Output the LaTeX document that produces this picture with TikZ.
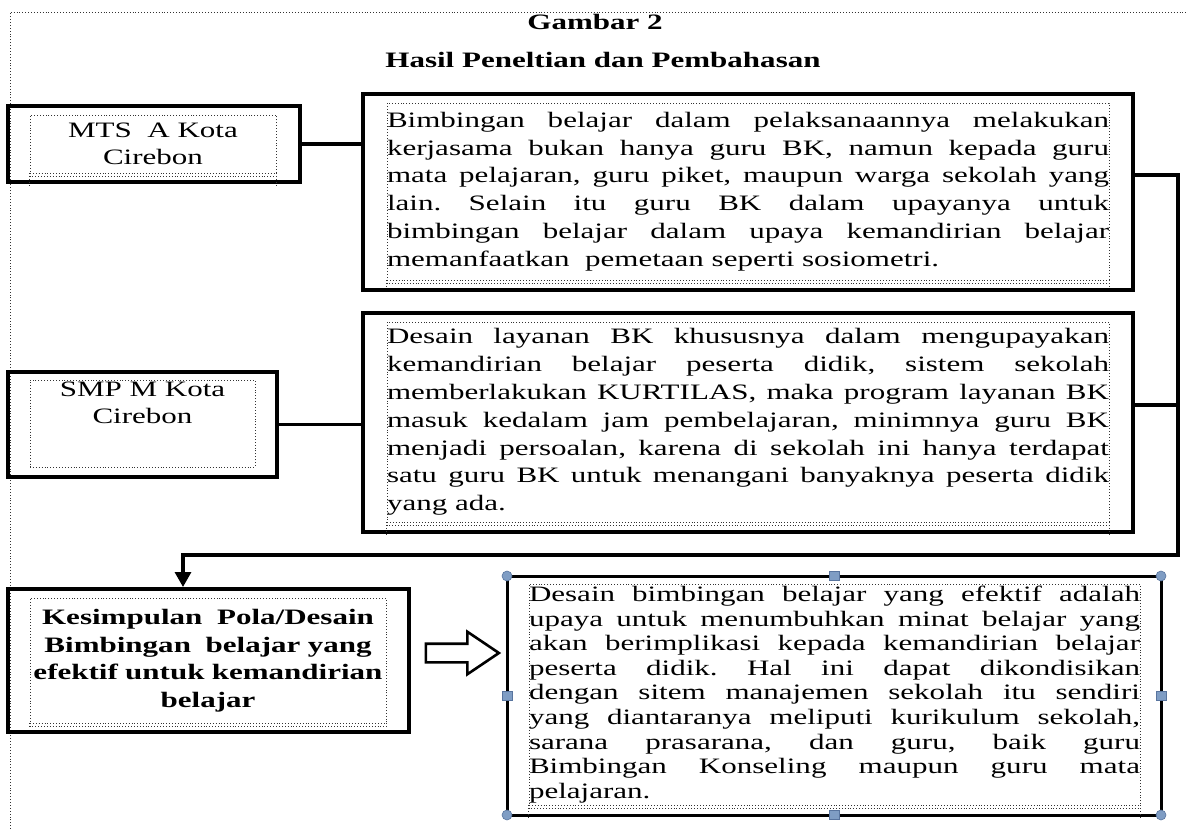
\documentclass[tikz,border=0pt]{standalone}
\usepackage{fontspec}
\setmainfont{Liberation Serif}[FakeStretch=1.41]
\usetikzlibrary{arrows.meta,shapes.arrows}
\definecolor{handleblue}{RGB}{127,157,196}
\definecolor{handleline}{RGB}{88,116,158}
\hyphenpenalty=10000
\tolerance=10000
\frenchspacing

\begin{document}
\begin{tikzpicture}[x=1pt,y=-1pt,
  outerbox/.style={draw,line width=4pt,inner sep=0pt},
  framebox/.style={draw=black!80,dotted,line width=0.9pt,inner sep=0pt},
  dotline/.style={draw=black!80,dotted,line width=0.9pt},
  bodytext/.style={framebox,align=justify,font=\fontsize{22}{27.8}\selectfont},
  conn/.style={line width=3.2pt},
  handle/.style={fill=handleblue,draw=handleline,line width=0.6pt}]

\useasboundingbox (0,0) rectangle (1187,829);

% Page frame
\draw[dotline] (10,829) -- (10,12) -- (1187,12);

% Title
\node[font=\bfseries\fontsize{22}{26}\selectfont] (title) at (595,22) {Gambar 2};
\node[font=\bfseries\fontsize{22}{26}\selectfont] (subtitle) at (603,60) {Hasil Peneltian dan Pembahasan};

% Schools
\node[outerbox,minimum width=292,minimum height=76] (mts) at (154,144) {};
\node[framebox,minimum width=246,minimum height=58,align=center,
  font=\fontsize{22}{26.7}\selectfont] (mtsin) at (153,144) {MTS\ \ A Kota\\Cirebon};

\node[outerbox,minimum width=269,minimum height=105] (smp) at (142.5,424.5) {};
\node[framebox,minimum width=225,minimum height=87] (smpin) at (142.5,423.5) {};
\node[anchor=north,inner sep=0pt,align=center,
  font=\fontsize{22}{26.7}\selectfont] (smptext) at ([yshift=-2pt]smpin.north) {SMP M Kota\\Cirebon};

% Findings
\node[outerbox,minimum width=770,minimum height=196] (box1) at (748,192) {};
\node[bodytext,text width=722pt,minimum height=177] (box1in) at (748,191.5) {Bimbingan belajar dalam pelaksanaannya melakukan\linebreak
kerjasama bukan hanya guru BK, namun kepada guru\linebreak
mata pelajaran, guru piket, maupun warga sekolah yang\linebreak
lain. Selain itu guru BK dalam upayanya untuk\linebreak
bimbingan belajar dalam upaya\ kemandirian belajar\linebreak
memanfaatkan\ \ pemetaan seperti sosiometri.};

\node[outerbox,minimum width=770,minimum height=219] (box2) at (748,422.5) {};
\node[bodytext,text width=722pt,minimum height=200] (box2in) at (748,422) {Desain layanan BK khususnya dalam mengupayakan\linebreak
kemandirian belajar peserta didik, sistem sekolah\linebreak
memberlakukan KURTILAS, maka program layanan BK\linebreak
masuk kedalam jam pembelajaran, minimnya guru BK\linebreak
menjadi persoalan, karena di sekolah ini hanya terdapat\linebreak
satu guru BK untuk menangani banyaknya peserta didik\linebreak
yang ada.};

% Conclusion
\node[outerbox,minimum width=401,minimum height=143] (concl) at (208.5,660.5) {};
\node[framebox,text width=356pt,minimum height=125,align=center,
  font=\bfseries\fontsize{22}{27.5}\selectfont] (conclin) at (208,660.5) {Kesimpulan\ \ Pola/Desain\\
Bimbingan\ \ belajar yang\\
efektif untuk kemandirian\\
belajar};

\node[single arrow,draw,line width=2.6pt,minimum height=73pt,minimum width=40pt,
  inner xsep=0pt,inner ysep=8pt,single arrow head extend=12pt,
  single arrow tip angle=68] (imply) at (455.5,653) {};

\node[draw,line width=3pt,outer sep=0pt,minimum width=654,minimum height=239] (box3) at (834,695.5) {};
\node[bodytext,text width=611pt,minimum height=221,
  font=\fontsize{22}{24.6}\selectfont] (box3in) at (834.5,694.5) {Desain bimbingan belajar yang efektif adalah\linebreak
upaya untuk menumbuhkan minat belajar yang\linebreak
akan berimplikasi kepada kemandirian belajar\linebreak
peserta didik. Hal ini dapat dikondisikan\linebreak
dengan sitem manajemen sekolah itu sendiri\linebreak
yang diantaranya meliputi kurikulum sekolah,\linebreak
sarana prasarana, dan guru, baik guru\linebreak
Bimbingan Konseling maupun guru mata\linebreak
pelajaran.};

% Frame tails
\foreach \n/\d in {mtsin/14pt,box1in/7pt,box2in/13pt,box3in/13pt,conclin/4pt}{
  \draw[dotline] ([yshift=-3pt]\n.south west) -- ([yshift=-3pt]\n.south east);
  \draw[dotline] (\n.south west) -- ([yshift=-\d]\n.south west);
  \draw[dotline] (\n.south east) -- ([yshift=-\d]\n.south east);
}

% Connectors
\coordinate (rtop) at (1178,175);
\coordinate (rbot) at (1178,555);
\coordinate (drop) at (183,555);
\draw[conn] (mts.east) -- (mts.east -| box1.west);
\draw[conn] (smp.east) -- (smp.east -| box2.west);
\draw[conn] ([yshift=17.5pt]box2.east) -- ([yshift=17.5pt]box2.east -| rtop);
\draw[conn,-{Triangle[length=15pt,width=16pt]}] ([yshift=17pt]box1.east) -- (rtop)
  -- (rbot) -- (drop) -- (drop |- concl.north);

% Handles
\foreach \a in {north west,north east,south west,south east}
  \draw[handle] (box3.\a) circle (5pt);
\foreach \a in {north,south,east,west}
  \draw[handle] ([shift={(-5pt,-4.5pt)}]box3.\a) rectangle ([shift={(5pt,4.5pt)}]box3.\a);

\end{tikzpicture}
\end{document}
